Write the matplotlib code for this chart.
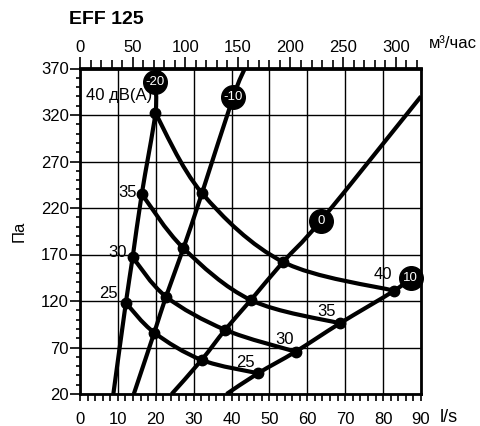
import matplotlib
matplotlib.use("Agg")
import matplotlib.pyplot as plt
import numpy as np
from matplotlib.path import Path
from matplotlib.patches import PathPatch
from matplotlib.ticker import MultipleLocator, FixedLocator

plt.rcParams['font.family'] = ['Liberation Sans', 'DejaVu Sans']

# уровни шума, дБ(А)
levels = [25, 30, 35, 40]
# точки на характеристиках (l/s, Па), по линиям -20, -10, 0, 10
dot_x = [[12.1, 19.6, 32.1, 47.0],
         [13.9, 22.7, 38.3, 56.9],
         [16.3, 27.3, 45.1, 68.6],
         [19.9, 32.2, 53.6, 82.9]]
dot_y = [[118, 86, 56.6, 42.3],
         [167, 124.7, 89, 65.5],
         [235, 176.8, 121, 96],
         [322, 236, 162, 131]]

settings = ['-20', '-10', '0', '10']
start_x = [8.8, 14.2, 24.2, 38.7]          # при 20 Па
badge_x = [19.9, 40.4, 63.6, 87.3]
badge_y = [355.6, 339, 206.5, 144.7]
end_x = [21.0, 43.5, 90.0, 87.3]
end_y = [370, 370, 340, 144.7]

# подписи уровней
left_lbl_x = [10.0, 12.4, 15.0]
left_lbl_y = [127.6, 171.8, 236.5]
right_lbl_x = [43.7, 54.0, 65.2, 80.0]
right_lbl_y = [53.4, 79, 109, 149]

y_ticks = [20, 70, 120, 170, 220, 270, 320, 370]
top_ticks = [0, 50, 100, 150, 200, 250, 300]


def smooth(ax, xs, ys, lw=3):
    # кривая Катмулла-Рома через точки
    pts = np.column_stack([xs, ys]).astype(float)
    verts = [pts[0]]
    codes = [Path.MOVETO]
    n = len(pts)
    for i in range(n - 1):
        p0 = pts[max(i - 1, 0)]
        p1 = pts[i]
        p2 = pts[i + 1]
        p3 = pts[min(i + 2, n - 1)]
        c1 = p1 + (p2 - p0) / 6
        c2 = p2 - (p3 - p1) / 6
        verts += [c1, c2, p2]
        codes += [Path.CURVE4] * 3
    ax.add_patch(PathPatch(Path(verts, codes), fill=False, lw=lw,
                           edgecolor='black', capstyle='butt', zorder=3))


fig = plt.figure(figsize=(4.8, 4.26), dpi=100)
ax = fig.add_axes([80 / 480, 1 - 394 / 426, 341 / 480, 325.5 / 426])
ax.set_xlim(0, 90)
ax.set_ylim(20, 370)

# характеристики
for j in range(4):
    xs = [start_x[j]] + [dot_x[k][j] for k in range(4)]
    ys = [20] + [dot_y[k][j] for k in range(4)]
    if badge_x[j] != end_x[j]:
        xs += [badge_x[j], end_x[j]]
        ys += [badge_y[j], end_y[j]]
    else:
        xs += [end_x[j]]
        ys += [end_y[j]]
    smooth(ax, xs, ys)

# линии равного шума
for k in range(4):
    smooth(ax, dot_x[k], dot_y[k])
    ax.plot(dot_x[k], dot_y[k], 'o', color='black', ms=7.5, zorder=4)

for j in range(4):
    ax.plot(badge_x[j], badge_y[j], 'o', color='black', ms=17, zorder=5,
            clip_on=False)
    ax.text(badge_x[j], badge_y[j], settings[j], color='white', fontsize=9.5,
            ha='center', va='center', zorder=6)

for k in range(3):
    ax.text(left_lbl_x[k], left_lbl_y[k], str(levels[k]), fontsize=12,
            ha='right', va='center', zorder=4)
ax.text(1.5, 340.8, '40 дВ(А)', fontsize=12, ha='left', va='center', zorder=4)
for k in range(4):
    ax.text(right_lbl_x[k], right_lbl_y[k], str(levels[k]), fontsize=12,
            ha='center', va='center', zorder=4)

# оси
ax.xaxis.set_major_locator(MultipleLocator(10))
ax.xaxis.set_minor_locator(MultipleLocator(2))
ax.yaxis.set_major_locator(FixedLocator(y_ticks))
ax.yaxis.set_minor_locator(FixedLocator(np.arange(20, 371, 10)))
ax.grid(which='major', color='black', lw=1)
for s in ax.spines.values():
    s.set_linewidth(2)
ax.tick_params(axis='x', which='both', direction='out', length=5, width=1.2,
               labelsize=12, pad=8)
ax.tick_params(axis='y', which='major', direction='out', length=7, width=1.2,
               labelsize=12, pad=1)
ax.tick_params(axis='y', which='minor', direction='out', length=3, width=1.2)
ax.set_ylabel('Па', fontsize=12, labelpad=10)

top = ax.secondary_xaxis('top', functions=(lambda v: v * 3.6, lambda v: v / 3.6))
top.xaxis.set_major_locator(FixedLocator(top_ticks))
top.xaxis.set_minor_locator(MultipleLocator(10))
top.tick_params(which='major', direction='out', length=8, width=1.2,
                labelsize=12, pad=2)
top.tick_params(which='minor', direction='out', length=6, width=1.2)
top.spines['top'].set_linewidth(2)

fig.text(69 / 480, 1 - 20 / 426, 'EFF 125', fontsize=14, fontweight='bold',
         va='center', ha='left')
fig.text(429 / 480, 1 - 44 / 426, 'м³/час', fontsize=12, va='center', ha='left')
fig.text(440 / 480, 1 - 417 / 426, 'l/s', fontsize=13, va='center', ha='left')

fig.savefig('out.png', dpi=100)
